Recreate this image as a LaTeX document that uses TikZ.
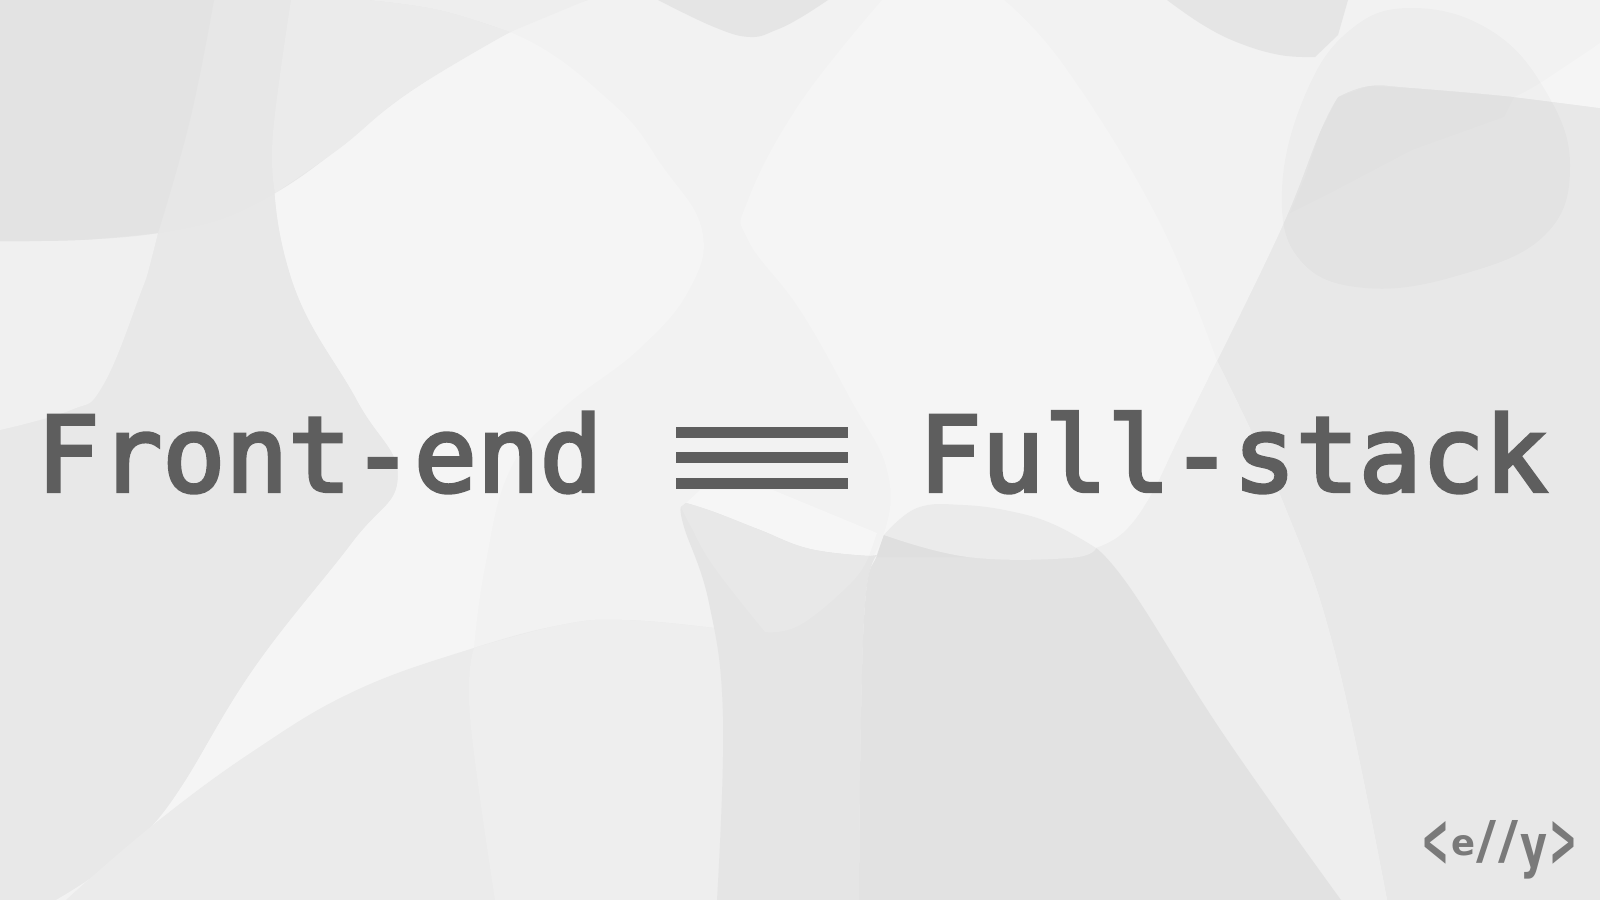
\documentclass[tikz,border=0pt]{standalone}
\usepackage{fontspec}
\usepackage{graphicx}
\usepackage{tikz}
\newfontfamily\titlefont[FakeBold=3.3]{DejaVu Sans Mono}
\newfontfamily\logofont{DejaVu Sans Bold}
\definecolor{ink}{HTML}{5E5E5E}
\definecolor{logoink}{HTML}{7A7A7A}
\definecolor{base}{HTML}{E8E8E8}
\definecolor{mid}{HTML}{F2F2F2}
\definecolor{pale}{HTML}{F5F5F5}
\definecolor{corner}{HTML}{E3E3E3}
\definecolor{topgray}{HTML}{E7E7E7}
\definecolor{band}{HTML}{EBEBEB}
\definecolor{soft}{HTML}{EEEEEE}
\definecolor{deep}{HTML}{E5E5E5}
\definecolor{deeper}{HTML}{E2E2E2}
\definecolor{deepest}{HTML}{DFDFDF}
\newcommand{\logochar}[3]{\resizebox{#1}{#2}{#3}}

\begin{document}
\begin{tikzpicture}[x=0.01cm, y=-0.01cm, tension=0.7,
    title/.style={anchor=base west, inner sep=0pt, text=ink, font=\titlefont\fontsize{29.7}{30}\selectfont},
    bar/.style={anchor=north west, inner sep=0pt, fill=ink, minimum width=1.72cm, minimum height=0.11cm}]
    \useasboundingbox (0,0) rectangle (1600,900);
    \fill[base] (0,0) rectangle (1600,900);

    % wide light area
    \fill[mid] plot[smooth] coordinates {(291,0) (273,133) (291,277) (357,400) (398,477) (352,543) (255,667) (184,783) (153,825) (102,870) (56,900)}
        -- (1387,900)
        -- plot[smooth] coordinates {(1387,900) (1336,657) (1285,507) (1217,361)}
        -- plot[smooth] coordinates {(1217,361) (1282,227) (1320,132) (1338,97)}
        -- plot[smooth] coordinates {(1338,97) (1369,86) (1412,88) (1514,97) (1600,108)}
        -- (1600,0) -- cycle;
    % left patch
    \fill[mid!60!soft] plot[smooth] coordinates {(214,0) (158,233) (138,300) (102,387) (71,410) (0,430)} -- (0,0) -- cycle;

    % big pale blob
    \fill[pale] plot[smooth] coordinates {(291,0) (273,133) (291,277) (357,400) (398,477) (352,543) (255,667) (184,783) (153,825)}
        -- plot[smooth] coordinates {(153,825) (255,750) (357,690) (474,648)}
        -- plot[smooth] coordinates {(474,648) (485,567) (510,470) (561,410) (638,350) (689,290) (702,230) (663,167) (612,103) (510,32) (367,0)} -- cycle;

    % middle pale blob
    \fill[pale] plot[smooth] coordinates {(882,0) (800,103) (748,200) (748,240) (800,310) (851,400) (887,470) (884,533) (851,583) (800,625) (765,632)}
        -- (1096,632) -- (1096,548)
        -- plot[smooth] coordinates {(1096,548) (1123,533) (1150,497) (1178,440) (1217,361)}
        -- plot[smooth] coordinates {(1217,361) (1157,217) (1065,67) (1004,0)} -- cycle;
    \fill[pale] plot[smooth] coordinates {(1600,43) (1540,83) (1514,97)} -- (1600,108) -- cycle;
    \fill[pale!90!white] (700,490) -- (773,490) -- (877,533) -- (869,556) -- plot[smooth] coordinates {(869,556) (810,549) (760,530) (714,512) (686,503)} -- cycle;

    % top notches
    \fill[deep] plot[smooth] coordinates {(658,0) (714,27) (750,37) (776,30) (800,18) (828,0)} -- cycle;
    \fill[deep] plot[smooth] coordinates {(1167,0) (1203,25) (1239,43) (1280,55) (1315,57)} -- (1338,35) -- (1348,0) -- cycle;

    % top left shade
    \fill[topgray] plot[smooth] coordinates {(0,241) (158,233) (275,193) (408,93) (510,32) (587,0)} -- (0,0) -- cycle;
    \fill[corner] plot[smooth] coordinates {(214,0) (190,120) (158,233)} -- plot[smooth] coordinates {(158,233) (80,240) (0,241)} -- (0,0) -- cycle;
    \fill[band] plot[smooth] coordinates {(291,0) (273,133) (275,193)} -- plot[smooth] coordinates {(275,193) (340,148) (408,93) (510,32)} -- plot[smooth] coordinates {(510,32) (439,10) (367,0)} -- cycle;
    \fill[soft] plot[smooth] coordinates {(367,0) (439,10) (510,32)} -- (587,0) -- cycle;

    % bottom left band
    \fill[band] plot[smooth] coordinates {(66,900) (153,825) (255,750) (357,690) (474,648) (561,625) (622,620) (714,628) (800,640)} -- (800,900) -- cycle;
    \fill[soft] plot[smooth] coordinates {(495,900) (470,717) (474,648)} -- plot[smooth] coordinates {(474,648) (561,625) (622,620) (714,628) (800,640)} -- (800,900) -- cycle;

    % right wedge
    \fill[soft] plot[smooth] coordinates {(1217,361) (1178,440) (1150,497) (1123,533) (1096,548)}
        -- plot[smooth] coordinates {(1096,548) (1133,592) (1224,735) (1341,900)}
        -- (1387,900)
        -- plot[smooth] coordinates {(1387,900) (1336,657) (1285,507) (1217,361)} -- cycle;

    % lower dark blobs
    \fill[deep] plot[smooth] coordinates {(686,503) (714,512) (760,530) (810,549) (869,556)}
        -- (877,555)
        -- plot[smooth] coordinates {(877,555) (866,593) (861,717) (859,900)}
        -- plot[smooth] coordinates {(717,900) (723,717) (709,603) (684,527) (681,507)} -- cycle;
    \fill[base] plot[smooth] coordinates {(686,503) (714,512) (760,530) (810,549) (869,556)}
        -- plot[smooth] coordinates {(869,556) (851,583) (800,625) (765,632)}
        -- plot[smooth] coordinates {(765,632) (714,567) (690,525) (681,507)} -- cycle;
    \fill[deeper] (884,535) -- (968,557) -- (1070,558) -- (1096,548)
        -- plot[smooth] coordinates {(1096,548) (1133,592) (1224,735) (1341,900)}
        -- (859,900)
        -- plot[smooth] coordinates {(859,900) (861,717) (866,593) (877,555) (884,535)} -- cycle;
    \fill[deepest] (884,535) -- (968,557) -- (877,557) -- cycle;
    \fill[band] plot[smooth] coordinates {(884,535) (917,508) (963,505) (1014,512) (1055,525) (1096,548)}
        -- plot[smooth] coordinates {(1096,548) (1070,558) (968,557) (884,535)} -- cycle;

    % round blob, upper right
    \fill[black, opacity=0.008] (1338,97) -- (1369,86) -- (1412,88) -- (1514,97) -- (1504,117) -- (1412,150) -- (1336,190) -- (1290,213) -- (1305,177) -- (1320,132) -- cycle;
    \fill[black, opacity=0.02] plot[smooth cycle] coordinates {(1412,8) (1490,30) (1545,90) (1570,165) (1545,235) (1460,275) (1365,288) (1300,260) (1282,190) (1305,95) (1350,30)};

    \node[title] (front) at (36,491.5) {Front-end};
    \node[bar] (bar1) at (675,426) {};
    \node[bar] (bar2) at (675,451) {};
    \node[bar] (bar3) at (675,477) {};
    \node[title] (full) at (918,491.5) {Full-stack};

    \node[anchor=base west, inner sep=0pt, text=logoink, font=\logofont] (logo) at (1421,863)
        {\raisebox{-0.03cm}{\logochar{0.28cm}{0.45cm}{<}}\kern0.02cm\raisebox{0.08cm}{\logochar{0.24cm}{0.2cm}{e}}\kern0.01cm\raisebox{0.05cm}{\logochar{0.2cm}{0.38cm}{/}}\kern0.02cm\raisebox{0.05cm}{\logochar{0.2cm}{0.38cm}{/}}\kern0.02cm\raisebox{-0.03cm}{\logochar{0.27cm}{0.32cm}{y}}\kern0.02cm\raisebox{-0.03cm}{\logochar{0.28cm}{0.45cm}{>}}};
\end{tikzpicture}
\end{document}
